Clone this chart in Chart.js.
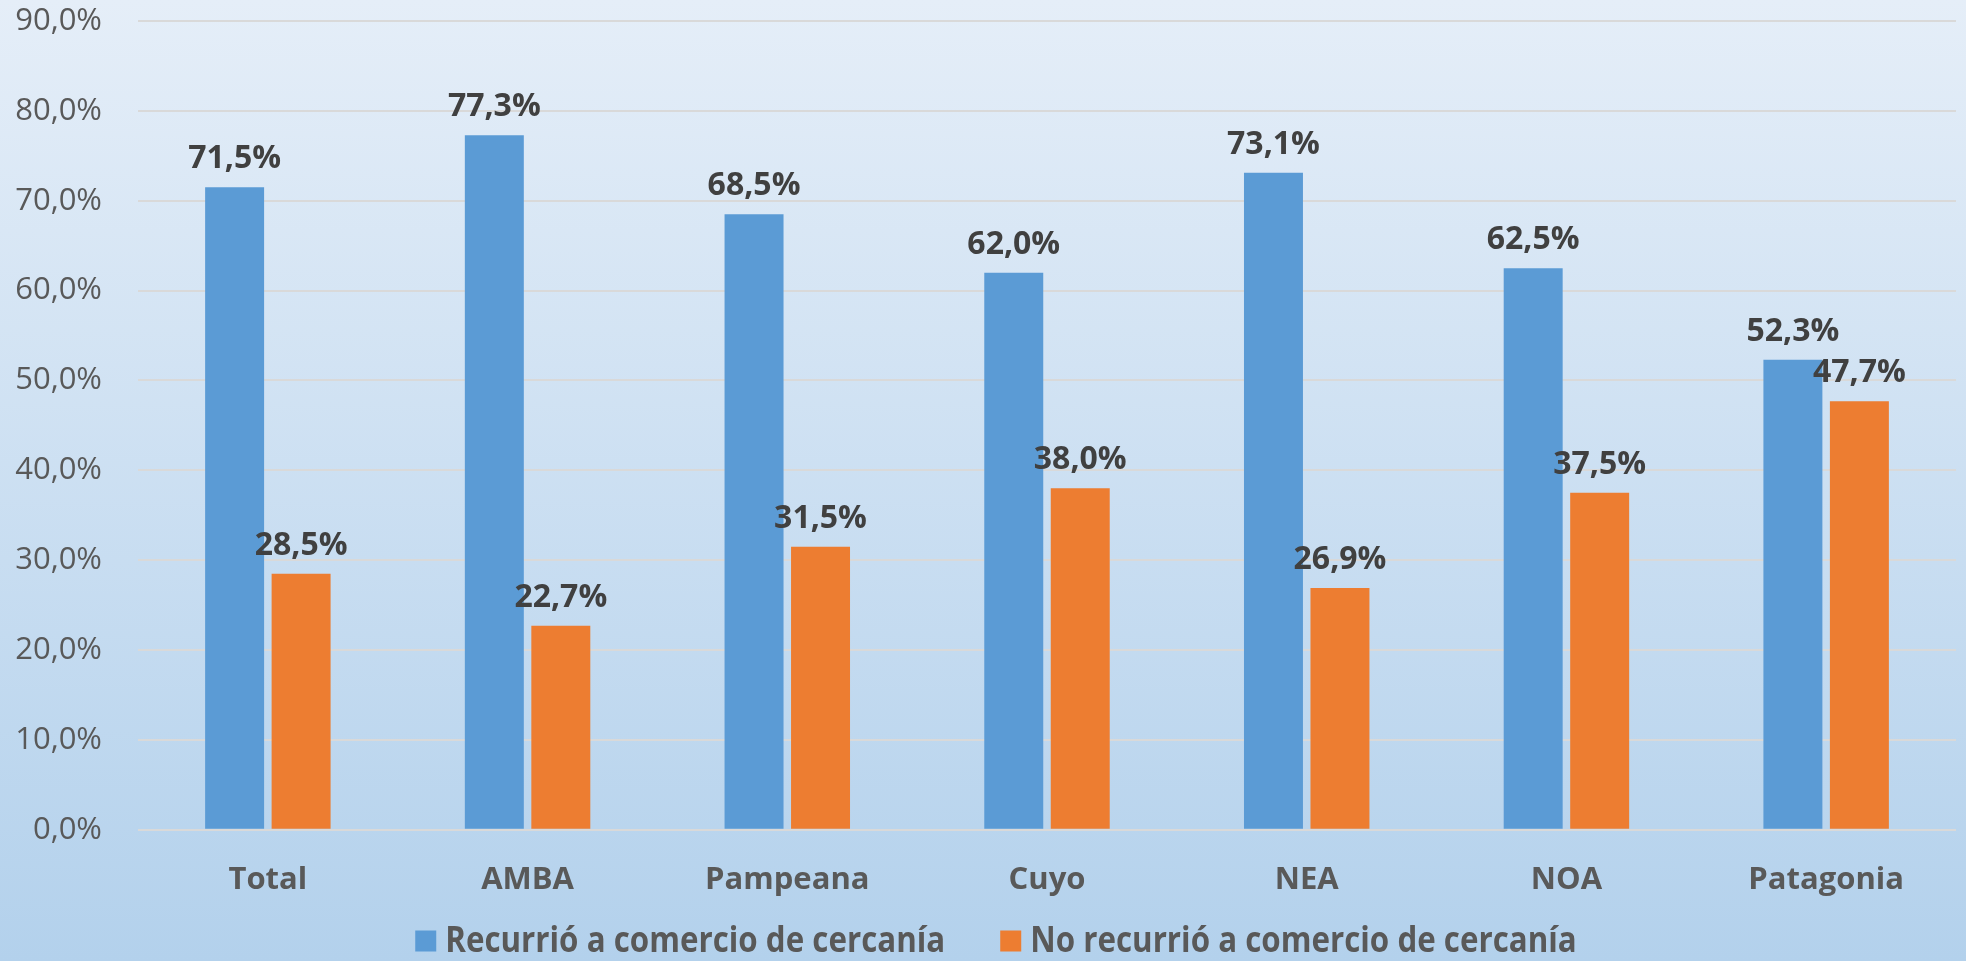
<!DOCTYPE html>
<html>
<head>
<meta charset="utf-8">
<script src="https://cdn.jsdelivr.net/npm/chart.js@4"></script>
<style>
  body { margin: 0; }
  #chart { display: block; background: linear-gradient(to bottom, #e5eef8 0%, #b3d1ec 100%); }
</style>
</head>
<body>
<canvas id="chart" width="1966" height="961"></canvas>
<script>
var regions = ["Total", "AMBA", "Pampeana", "Cuyo", "NEA", "NOA", "Patagonia"];
var recurrio = [71.5, 77.3, 68.5, 62.0, 73.1, 62.5, 52.3];
var noRecurrio = [28.5, 22.7, 31.5, 38.0, 26.9, 37.5, 47.7];
var yTicks = [0, 10, 20, 30, 40, 50, 60, 70, 80, 90];

function pct(v) {
    return v.toFixed(1).replace(".", ",") + "%";
}

// draw the value above each bar
var valueLabels = {
    id: "valueLabels",
    afterDatasetsDraw: function (chart) {
        var ctx = chart.ctx;
        ctx.save();
        ctx.font = "bold 32px 'Open Sans'";
        ctx.fillStyle = "#404040";
        ctx.textAlign = "center";
        ctx.textBaseline = "alphabetic";
        chart.data.datasets.forEach(function (ds, i) {
            chart.getDatasetMeta(i).data.forEach(function (bar, j) {
                ctx.fillText(pct(ds.data[j]), bar.x, bar.y - 19);
            });
        });
        ctx.restore();
    }
};

// legend drawn by hand so the narrow text and the gaps match
var bottomLegend = {
    id: "bottomLegend",
    afterDraw: function (chart) {
        var ctx = chart.ctx;
        var sets = chart.data.datasets;
        var y = 941, box = 21, gap = 9, itemGap = 55, sx = 0.87;
        ctx.save();
        ctx.font = "bold 36px 'Open Sans'";
        ctx.textBaseline = "middle";
        var widths = sets.map(function (ds) { return ctx.measureText(ds.label).width * sx; });
        var total = widths.reduce(function (a, b) { return a + b; }, 0) + sets.length * (box + gap) + itemGap * (sets.length - 1);
        var x = chart.width / 2 + 13 - total / 2;
        sets.forEach(function (ds, i) {
            ctx.fillStyle = ds.backgroundColor;
            ctx.fillRect(x, y - box / 2, box, box);
            x += box + gap;
            ctx.save();
            ctx.translate(x, y + 1);
            ctx.scale(sx, 1);
            ctx.fillStyle = "#595959";
            ctx.fillText(ds.label, 0, 0);
            ctx.restore();
            x += widths[i] + itemGap;
        });
        ctx.restore();
    }
};

var ctx = document.getElementById("chart");

var chart = new Chart(ctx, {
    type: "bar",
    data: {
        labels: regions,
        datasets: [
            {
                label: "Recurrió a comercio de cercanía",
                data: recurrio,
                backgroundColor: "#5b9bd5"
            },
            {
                label: "No recurrió a comercio de cercanía",
                data: noRecurrio,
                backgroundColor: "#ed7d31"
            }
        ]
    },
    options: {
        responsive: false,
        animation: false,
        categoryPercentage: 0.512,
        barPercentage: 0.887,
        layout: {
            padding: { top: 21, right: 10, bottom: 30, left: 0 }
        },
        scales: {
            y: {
                min: 0,
                max: 90,
                afterBuildTicks: function (axis) {
                    axis.ticks = yTicks.map(function (v) { return { value: v }; });
                },
                afterFit: function (axis) { axis.width = 138; },
                border: { display: false },
                grid: { color: "#d9d9d9", lineWidth: 2, drawTicks: true, tickLength: 36, tickColor: "rgba(0,0,0,0)" },
                ticks: {
                    padding: 0,
                    color: "#595959",
                    font: { family: "'Open Sans'", size: 31 },
                    callback: function (v) { return pct(v); }
                }
            },
            x: {
                border: { display: false },
                grid: { display: false, drawTicks: false },
                ticks: {
                    padding: 32,
                    color: "#595959",
                    font: { family: "'Open Sans'", size: 31, weight: "bold" }
                }
            }
        },
        plugins: {
            tooltip: { enabled: false },
            legend: { display: false }
        }
    },
    plugins: [valueLabels, bottomLegend]
});
</script>
</body>
</html>
